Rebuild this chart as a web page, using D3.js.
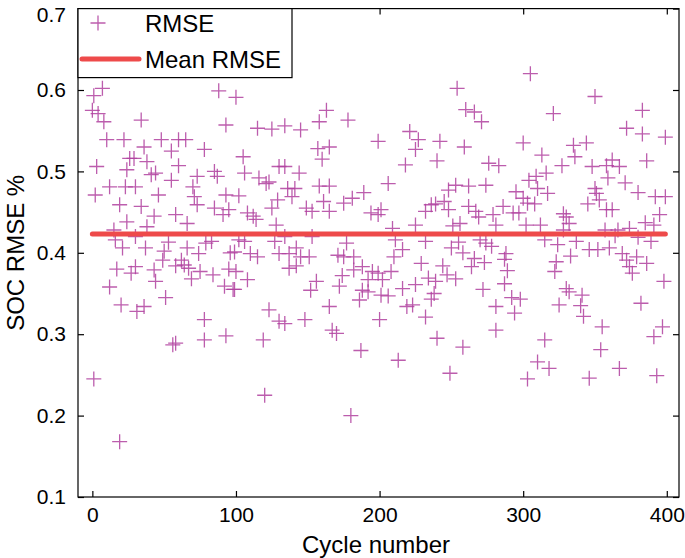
<!DOCTYPE html>
<html><head><meta charset="utf-8">
<script src="https://cdn.jsdelivr.net/npm/d3@7"></script>
<style>html,body{margin:0;padding:0;background:#fff;}svg{display:block;}</style>
</head><body>
<svg id="chart" width="685" height="558"></svg>
<script>
// ---- data ----
const cycles = [
7,1,0,4,8,10,22,26,3,24,12,2,23,19,24,15,16,21,17,27,12,20,1,19,
34,48,60,36,55,29,38,60,41,44,30,55,46,34,43,58,38,30,37,53,50,49,30,43,58,62,44,51,36,31,56,58,
88,93,65,78,85,73,87,70,93,71,73,85,95,91,66,83,79,66,74,96,64,67,75,84,95,69,92,98,78,78,93,
100,115,125,134,105,130,106,116,121,123,102,129,125,108,112,128,114,102,106,127,99,110,115,130,100,108,99,123,130,119,120,
163,158,145,157,165,160,134,144,136,141,158,165,139,161,149,153,165,134,153,142,137,145,151,142,137,156,152,165,134,148,167,
178,199,189,181,175,194,199,201,177,171,175,182,188,195,199,182,174,192,172,202,188,192,186,201,200,170,187,180,
221,227,225,218,206,232,236,225,209,211,232,216,210,229,208,234,216,225,206,223,236,219,232,213,
254,260,266,271,242,259,240,253,262,248,245,239,248,262,267,269,256,251,270,255,250,258,266,273,244,264,247,253,239,272,238,240,258,249,
305,300,276,283,274,304,295,300,303,286,293,297,279,281,302,274,278,288,287,289,287,292,298,281,294,281,303,
321,335,313,336,327,316,309,310,317,308,328,330,332,312,328,337,315,324,333,323,322,330,332,341,325,340,342,315,310,318,
350,372,344,348,362,358,367,359,371,350,351,353,345,358,362,357,366,374,364,346,352,360,369,372,374,376,355,354,367,346,
383,383,399,386,380,392,399,395,385,391,380,389,379,386,398,382,397,391,393
];
const rmse = [
0.602,0.593,0.575,0.571,0.561,0.539,0.539,0.516,0.506,0.502,0.481,0.471,0.481,0.459,0.438,0.428,0.416,0.406,0.380,0.375,0.358,0.336,0.245,0.168,
0.563,0.539,0.539,0.530,0.525,0.516,0.512,0.507,0.496,0.498,0.481,0.489,0.471,0.457,0.445,0.447,0.432,0.420,0.406,0.413,0.402,0.391,0.383,0.379,0.384,0.391,0.365,0.345,0.334,0.328,0.287,0.289,
0.599,0.557,0.539,0.527,0.500,0.494,0.494,0.481,0.471,0.469,0.459,0.455,0.453,0.447,0.436,0.414,0.412,0.406,0.399,0.400,0.385,0.381,0.377,0.373,0.380,0.368,0.359,0.355,0.318,0.293,0.298,
0.591,0.553,0.552,0.556,0.518,0.506,0.498,0.492,0.485,0.487,0.470,0.465,0.455,0.449,0.445,0.434,0.441,0.416,0.414,0.414,0.401,0.399,0.395,0.399,0.377,0.367,0.355,0.330,0.316,0.293,0.225,
0.575,0.561,0.551,0.528,0.530,0.515,0.506,0.498,0.479,0.479,0.482,0.482,0.469,0.463,0.455,0.451,0.451,0.420,0.420,0.406,0.399,0.395,0.395,0.384,0.381,0.365,0.354,0.334,0.313,0.318,0.305,
0.563,0.537,0.474,0.467,0.461,0.449,0.447,0.453,0.412,0.397,0.395,0.395,0.383,0.377,0.375,0.379,0.372,0.367,0.359,0.367,0.354,0.352,0.342,0.348,0.318,0.301,0.280,0.200,
0.549,0.539,0.527,0.508,0.485,0.451,0.459,0.434,0.430,0.416,0.414,0.404,0.395,0.387,0.377,0.369,0.356,0.361,0.347,0.336,0.343,0.334,0.321,0.268,
0.602,0.576,0.573,0.561,0.537,0.530,0.513,0.483,0.482,0.477,0.463,0.460,0.453,0.457,0.451,0.444,0.436,0.433,0.416,0.413,0.406,0.400,0.393,0.388,0.384,0.383,0.373,0.368,0.365,0.355,0.350,0.295,0.284,0.252,
0.620,0.535,0.510,0.507,0.483,0.489,0.475,0.467,0.461,0.457,0.449,0.449,0.447,0.434,0.434,0.412,0.408,0.399,0.392,0.378,0.362,0.345,0.343,0.334,0.326,0.305,0.245,
0.571,0.532,0.520,0.518,0.507,0.498,0.494,0.479,0.473,0.460,0.448,0.444,0.436,0.434,0.428,0.414,0.416,0.410,0.396,0.389,0.377,0.356,0.352,0.348,0.336,0.335,0.322,0.293,0.266,0.258,
0.592,0.553,0.535,0.506,0.514,0.507,0.506,0.492,0.486,0.479,0.473,0.465,0.460,0.453,0.453,0.428,0.428,0.430,0.421,0.404,0.404,0.406,0.399,0.391,0.383,0.375,0.309,0.281,0.258,0.246,
0.575,0.546,0.542,0.513,0.474,0.469,0.469,0.447,0.437,0.434,0.419,0.414,0.395,0.387,0.365,0.338,0.309,0.297,0.249
];
const meanRmse = 0.423;
const meanRange = [0, 399];
const xTicks = [0, 100, 200, 300, 400];
const yTicks = [0.1, 0.2, 0.3, 0.4, 0.5, 0.6, 0.7];
const legendLabels = ["RMSE", "Mean RMSE"];
const xTitle = "Cycle number";
const yTitle = "SOC RMSE %";

// ---- drawing ----
const svg = d3.select("#chart");
const L = 78, R = 679, T = 8.6, B = 497;
const x = d3.scaleLinear().domain([-10, 408.5]).range([L, R]);
const y = d3.scaleLinear().domain([0.1, 0.7]).range([B, T]);
const font = "'Liberation Sans', Arial, sans-serif";
const markerColor = "#b0419f";
const lineColor = "#ee4a4a";

const points = cycles.map((c, i) => ({c, v: rmse[i]}));
const plusPath = h => `M${-h},0H${h}M0,${-h}V${h}`;

// scatter
svg.append("g").selectAll("path").data(points).join("path")
  .attr("transform", d => `translate(${x(d.c)},${y(d.v)})`)
  .attr("d", plusPath(7.5))
  .attr("stroke", markerColor).attr("stroke-opacity", 0.85)
  .attr("stroke-width", 1.3).attr("fill", "none");

// mean line
svg.append("line")
  .attr("x1", x(meanRange[0])).attr("x2", x(meanRange[1]))
  .attr("y1", y(meanRmse)).attr("y2", y(meanRmse))
  .attr("stroke", lineColor).attr("stroke-width", 5).attr("stroke-linecap", "round");

// axes
function styleAxis(g) {
  g.select(".domain").remove();
  g.selectAll("line").attr("stroke", "#000").attr("stroke-width", 1.2);
  g.selectAll("text").attr("font-family", font).attr("font-size", 21).attr("fill", "#000");
}
svg.append("g").attr("transform", `translate(0,${B})`)
  .call(d3.axisBottom(x).tickValues(xTicks).tickSizeInner(-6).tickSizeOuter(0).tickPadding(10).tickFormat(d3.format("d")))
  .call(styleAxis);
svg.append("g").attr("transform", `translate(${L},0)`)
  .call(d3.axisLeft(y).tickValues(yTicks).tickSizeInner(-6).tickSizeOuter(0).tickPadding(12).tickFormat(d3.format(".1f")))
  .call(styleAxis);
svg.append("g").attr("transform", `translate(${R},0)`)
  .call(d3.axisRight(y).tickValues(yTicks).tickSizeInner(-6).tickSizeOuter(0).tickFormat(""))
  .call(styleAxis);
svg.append("g").attr("transform", `translate(0,${T})`)
  .call(d3.axisTop(x).tickValues(xTicks).tickSizeInner(-6).tickSizeOuter(0).tickFormat(""))
  .call(styleAxis);
// keep the top label inside the page
svg.selectAll("text").filter(function(){ return this.textContent === "0.7"; }).attr("dy", "0.62em");

// frame
svg.append("rect").attr("x", L).attr("y", T).attr("width", R - L).attr("height", B - T)
  .attr("fill", "none").attr("stroke", "#000").attr("stroke-width", 1.2);

// titles
svg.append("text").attr("x", 376).attr("y", 553).attr("text-anchor", "middle")
  .attr("font-family", font).attr("font-size", 24).text(xTitle);
svg.append("text").attr("transform", `translate(24,${(T + B) / 2}) rotate(-90)`)
  .attr("text-anchor", "middle").attr("font-family", font).attr("font-size", 24).text(yTitle);

// legend
const lg = svg.append("g");
lg.append("rect").attr("x", L).attr("y", T).attr("width", 214).attr("height", 69)
  .attr("fill", "#fff").attr("stroke", "#000").attr("stroke-width", 1.2);
lg.append("path").attr("transform", "translate(98,23)").attr("d", plusPath(7.5))
  .attr("stroke", markerColor).attr("stroke-opacity", 0.85).attr("stroke-width", 1.3).attr("fill", "none");
lg.append("line").attr("x1", 82).attr("x2", 139).attr("y1", 59).attr("y2", 59)
  .attr("stroke", lineColor).attr("stroke-width", 5).attr("stroke-linecap", "round");
lg.selectAll("text").data(legendLabels).join("text")
  .attr("x", 145).attr("y", (d, i) => 32 + i * 36)
  .attr("font-family", font).attr("font-size", 24).text(d => d);
</script>
</body></html>
